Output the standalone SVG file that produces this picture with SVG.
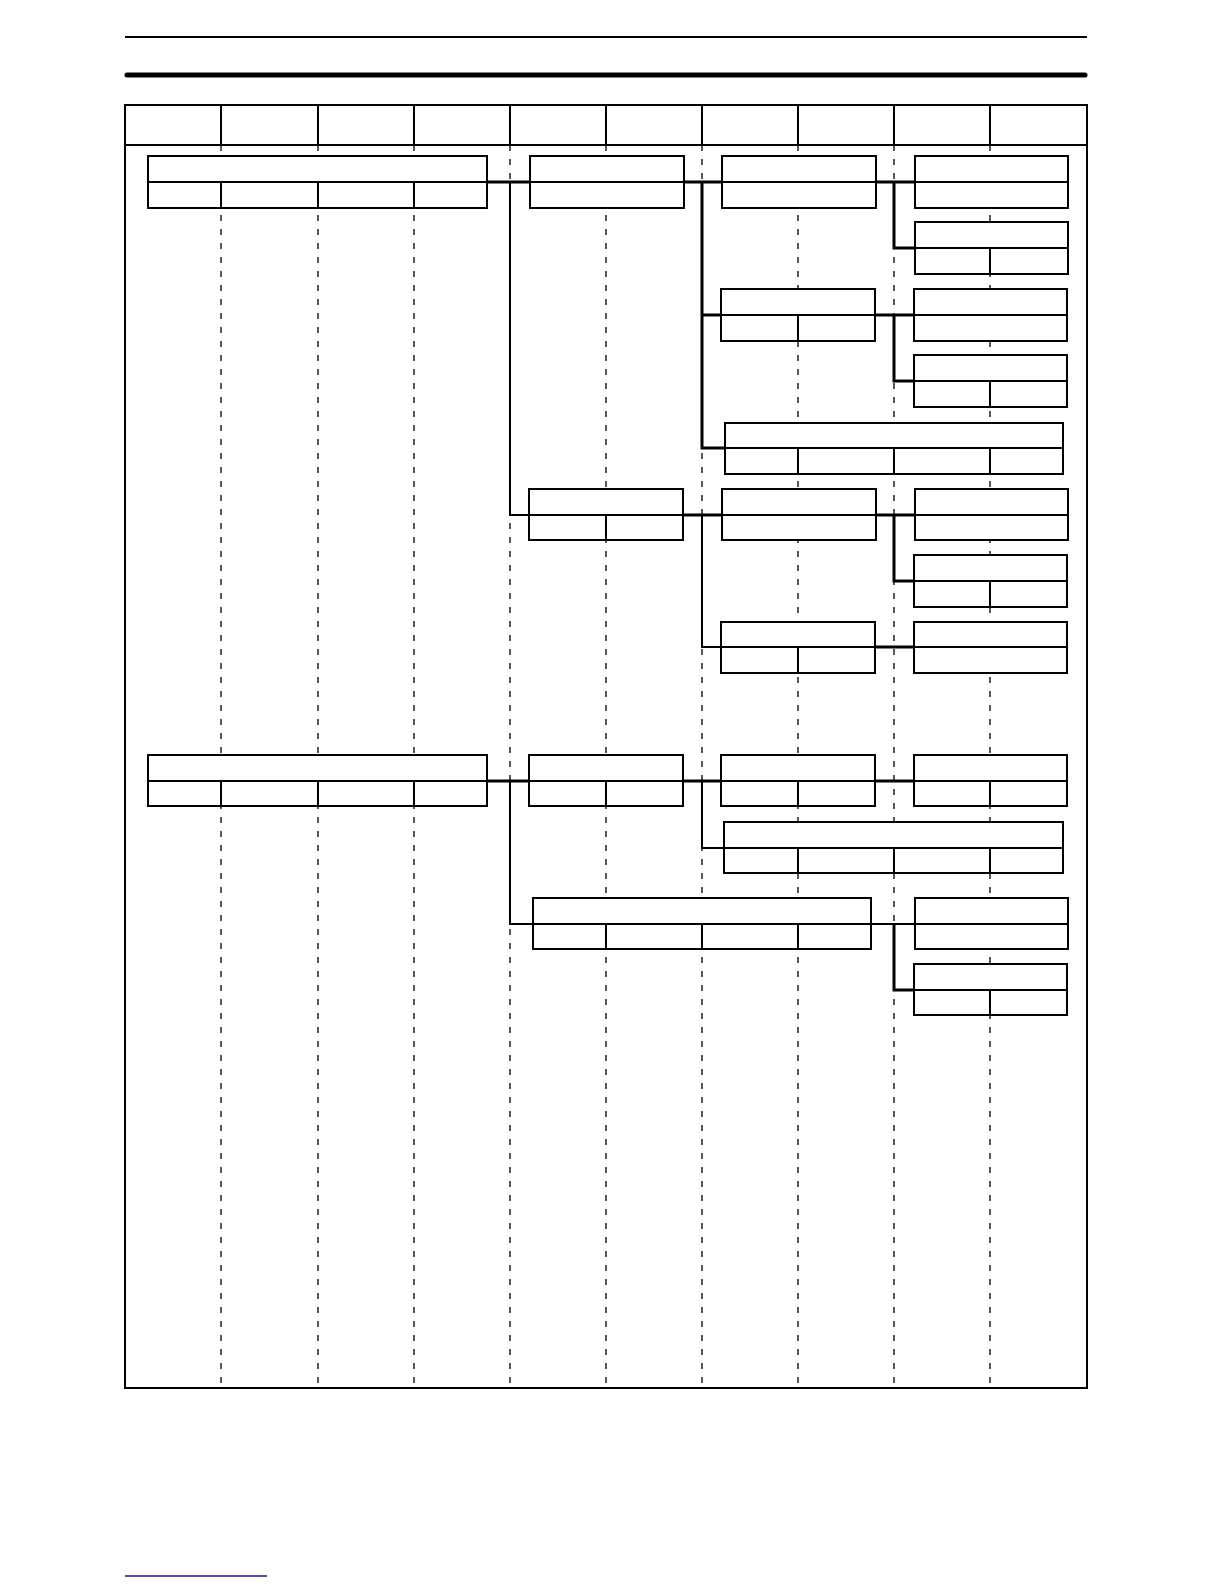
<svg xmlns="http://www.w3.org/2000/svg" width="1224" height="1584" viewBox="0 0 1224 1584">
<style>
.bx{fill:#fff;stroke:#000;stroke-width:2}
.ln{stroke:#000;stroke-width:2;fill:none}
.dash{stroke:#000;stroke-width:1.3;stroke-dasharray:6 8;fill:none}
.c{stroke:#000;stroke-width:3;fill:none}
.ct{stroke:#000;stroke-width:2;fill:none}
</style>
<rect width="1224" height="1584" fill="#fff"/>
<g id="page">
<line x1="125" y1="37" x2="1087" y2="37" stroke="#000" stroke-width="2"/>
<line x1="127" y1="75" x2="1085" y2="75" stroke="#000" stroke-width="5" stroke-linecap="round"/>
<line x1="125" y1="1576" x2="267" y2="1576" stroke="#1a1a70" stroke-width="1.5"/>
</g>
<g id="grid">
<g class="dash">
<line x1="221" y1="145" x2="221" y2="1388"/>
<line x1="318" y1="145" x2="318" y2="1388"/>
<line x1="414" y1="145" x2="414" y2="1388"/>
<line x1="510" y1="145" x2="510" y2="1388"/>
<line x1="606" y1="145" x2="606" y2="1388"/>
<line x1="702" y1="145" x2="702" y2="1388"/>
<line x1="798" y1="145" x2="798" y2="1388"/>
<line x1="894" y1="145" x2="894" y2="1388"/>
<line x1="990" y1="145" x2="990" y2="1388"/>
</g>
<rect x="125" y="105" width="962" height="1283" class="ln"/>
<line x1="125" y1="145" x2="1087" y2="145" class="ln"/>
<g class="ln">
<line x1="221" y1="105" x2="221" y2="145"/>
<line x1="318" y1="105" x2="318" y2="145"/>
<line x1="414" y1="105" x2="414" y2="145"/>
<line x1="510" y1="105" x2="510" y2="145"/>
<line x1="606" y1="105" x2="606" y2="145"/>
<line x1="702" y1="105" x2="702" y2="145"/>
<line x1="798" y1="105" x2="798" y2="145"/>
<line x1="894" y1="105" x2="894" y2="145"/>
<line x1="990" y1="105" x2="990" y2="145"/>
</g>
</g>
<g id="connectors">
<polyline class="c" points="487,182 530,182"/>
<polyline class="ct" points="510,182 510,515 529,515"/>
<polyline class="c" points="684,182 722,182"/>
<polyline class="c" points="702,182 702,448 725,448"/>
<polyline class="c" points="702,315 721,315"/>
<polyline class="c" points="876,182 915,182"/>
<polyline class="c" points="894,182 894,248 915,248"/>
<polyline class="c" points="875,315 914,315"/>
<polyline class="c" points="894,315 894,381 914,381"/>
<polyline class="c" points="683,515 722,515"/>
<polyline class="ct" points="702,515 702,647 721,647"/>
<polyline class="c" points="876,515 915,515"/>
<polyline class="c" points="894,515 894,581 914,581"/>
<polyline class="c" points="875,647 914,647"/>
<polyline class="c" points="487,781 529,781"/>
<polyline class="ct" points="510,781 510,924 533,924"/>
<polyline class="c" points="683,781 721,781"/>
<polyline class="ct" points="702,781 702,848 724,848"/>
<polyline class="c" points="875,781 914,781"/>
<polyline class="ct" points="871,924 915,924"/>
<polyline class="c" points="894,924 894,990 914,990"/>
</g>
<g id="A1"><rect class="bx" x="148" y="156" width="339" height="52"/><path class="ln" d="M148 182H487M221 182V208M318 182V208M414 182V208"/></g>
<g id="B1"><rect class="bx" x="530" y="156" width="154" height="52"/><path class="ln" d="M530 182H684"/></g>
<g id="C1"><rect class="bx" x="722" y="156" width="154" height="52"/><path class="ln" d="M722 182H876"/></g>
<g id="D1"><rect class="bx" x="915" y="156" width="153" height="52"/><path class="ln" d="M915 182H1068"/></g>
<g id="D2"><rect class="bx" x="915" y="222" width="153" height="52"/><path class="ln" d="M915 248H1068M990 248V274"/></g>
<g id="C2"><rect class="bx" x="721" y="289" width="154" height="52"/><path class="ln" d="M721 315H875M798 315V341"/></g>
<g id="D3"><rect class="bx" x="914" y="289" width="153" height="52"/><path class="ln" d="M914 315H1067"/></g>
<g id="D4"><rect class="bx" x="914" y="355" width="153" height="52"/><path class="ln" d="M914 381H1067M990 381V407"/></g>
<g id="C3"><rect class="bx" x="725" y="423" width="338" height="51"/><path class="ln" d="M725 448H1063M798 448V474M894 448V474M990 448V474"/></g>
<g id="B2"><rect class="bx" x="529" y="489" width="154" height="51"/><path class="ln" d="M529 515H683M606 515V540"/></g>
<g id="C4"><rect class="bx" x="722" y="489" width="154" height="51"/><path class="ln" d="M722 515H876"/></g>
<g id="D5"><rect class="bx" x="915" y="489" width="153" height="51"/><path class="ln" d="M915 515H1068"/></g>
<g id="D6"><rect class="bx" x="914" y="555" width="153" height="52"/><path class="ln" d="M914 581H1067M990 581V607"/></g>
<g id="C5"><rect class="bx" x="721" y="622" width="154" height="51"/><path class="ln" d="M721 647H875M798 647V673"/></g>
<g id="D7"><rect class="bx" x="914" y="622" width="153" height="51"/><path class="ln" d="M914 647H1067"/></g>
<g id="A2"><rect class="bx" x="148" y="755" width="339" height="51"/><path class="ln" d="M148 781H487M221 781V806M318 781V806M414 781V806"/></g>
<g id="B3"><rect class="bx" x="529" y="755" width="154" height="51"/><path class="ln" d="M529 781H683M606 781V806"/></g>
<g id="C6"><rect class="bx" x="721" y="755" width="154" height="51"/><path class="ln" d="M721 781H875M798 781V806"/></g>
<g id="D8"><rect class="bx" x="914" y="755" width="153" height="51"/><path class="ln" d="M914 781H1067M990 781V806"/></g>
<g id="C7"><rect class="bx" x="724" y="822" width="339" height="51"/><path class="ln" d="M724 848H1063M798 848V873M894 848V873M990 848V873"/></g>
<g id="B4"><rect class="bx" x="533" y="898" width="338" height="51"/><path class="ln" d="M533 924H871M606 924V949M702 924V949M798 924V949"/></g>
<g id="D9"><rect class="bx" x="915" y="898" width="153" height="51"/><path class="ln" d="M915 924H1068"/></g>
<g id="D10"><rect class="bx" x="914" y="964" width="153" height="51"/><path class="ln" d="M914 990H1067M990 990V1015"/></g>
</svg>
